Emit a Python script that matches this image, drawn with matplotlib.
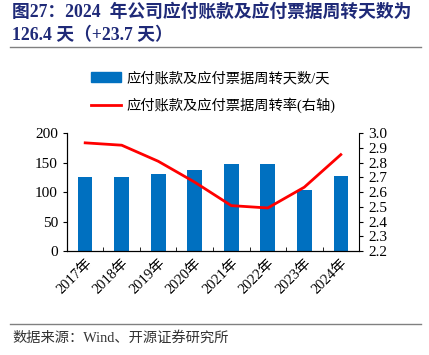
import matplotlib
matplotlib.use("Agg")
import matplotlib.pyplot as plt
import numpy as np
from matplotlib.lines import Line2D
from matplotlib.patches import Patch

years = ["2017年", "2018年", "2019年", "2020年", "2021年", "2022年", "2023年", "2024年"]
days = [125.4, 126.0, 131.0, 138.0, 147.0, 148.0, 102.7, 126.4]
turnover = [2.934, 2.918, 2.809, 2.667, 2.508, 2.492, 2.633, 2.854]

FONTS = ["Liberation Serif", "Noto Sans CJK SC", "DejaVu Sans"]
plt.rcParams["font.family"] = FONTS

fig = plt.figure(figsize=(4.29, 3.55), dpi=100)

title_color = "#1F2A78"
fig.text(0.028, 0.965, "图27：2024  年公司应付账款及应付票据周转天数为", fontsize=12.8,
         fontweight="bold", color=title_color, va="center", ha="left")
fig.text(0.028, 0.90, "126.4 天（+23.7 天）", fontsize=12.8,
         fontweight="bold", color=title_color, va="center", ha="left")
fig.add_artist(Line2D([0.023, 0.982], [0.867, 0.867], color="#808080", lw=1))
fig.add_artist(Line2D([0.023, 0.982], [0.087, 0.087], color="#808080", lw=1))
fig.text(0.028, 0.048, "数据来源：Wind、开源证券研究所", fontsize=10.3, color="#333333",
         va="center", ha="left")

ax = fig.add_axes([0.156, 0.293, 0.681, 0.332])
x = np.arange(len(years))
ax.bar(x, days, width=0.4, color="#0070C0", zorder=2)
ax.set_ylim(0, 200)
ax.set_yticks([0, 50, 100, 150, 200])
ax.set_xlim(-0.5, len(years) - 0.5)
ax.set_xticks(x)
ax.set_xticklabels(years, rotation=45, ha="right", rotation_mode="anchor", fontsize=10.5)
ax.set_xticks(np.arange(-0.5, len(years)), minor=True)
ax.tick_params(axis="x", which="major", length=0, pad=4)
ax.tick_params(axis="x", which="minor", direction="in", length=3)
ax.tick_params(axis="y", labelsize=11, direction="out", length=3)
ax.spines["top"].set_visible(False)
ax.spines["right"].set_visible(False)

ax2 = ax.twinx()
ax2.plot(x, turnover, color="#FF0000", lw=2)
ax2.set_ylim(2.2, 3.0)
ax2.set_yticks(np.round(np.arange(2.2, 3.01, 0.1), 1))
ax2.set_yticklabels([f"{v:.1f}" for v in np.arange(2.2, 3.01, 0.1)])
ax2.tick_params(axis="y", labelsize=11, direction="out", length=3)
ax2.spines["top"].set_visible(False)

handles = [Patch(color="#0070C0"), Line2D([0], [0], color="#FF0000", lw=2)]
labels = ["应付账款及应付票据周转天数/天", "应付账款及应付票据周转率(右轴)"]
fig.legend(handles, labels, loc="center left", bbox_to_anchor=(0.195, 0.74),
           frameon=False, handlelength=2.1, handletextpad=0.4, labelspacing=0.85,
           borderpad=0, prop={"family": FONTS, "size": 10.3})

fig.savefig("out.png", dpi=100)
